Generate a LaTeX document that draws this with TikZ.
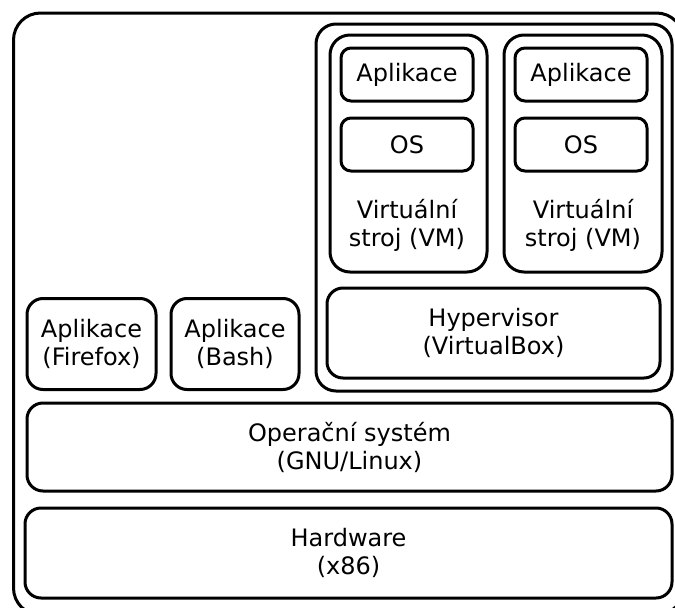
\documentclass[tikz,border=0pt]{standalone}
\usepackage{fontspec}
\setmainfont{DejaVu Sans}
\begin{document}
\begin{tikzpicture}[x=1pt,y=-1pt,
    layer/.style={draw, black, line width=3pt, align=center, inner sep=0, outer sep=0,
      font=\fontsize{24}{28}\selectfont},
    appbox/.style={layer, rounded corners=10pt},
    bigbox/.style={layer, rounded corners=16pt}]

      \useasboundingbox (0, 0) rectangle (675, 608);
      % outer frame, cut by the page
      \node[layer, rounded corners=27pt, minimum width=670pt, minimum height=602pt] (host) at (348.5, 314) {};

      % virtualisation part
      \node[bigbox, rounded corners=20pt, minimum width=356pt, minimum height=367pt] (vmhost) at (494, 207.5) {};
      \node[bigbox, rounded corners=20pt, minimum width=157pt, minimum height=237pt] (vma) at (408.5, 153.5) {};
      \node[bigbox, rounded corners=20pt, minimum width=158pt, minimum height=237pt] (vmb) at (583, 153.5) {};
      \node[appbox, minimum width=132pt, minimum height=53pt] (appa) at (407, 74.5) {Aplikace};
      \node[appbox, minimum width=132pt, minimum height=53pt] (osa) at (407, 144.5) {OS};
      \node[appbox, minimum width=132pt, minimum height=53pt] (appb) at (581, 74.5) {Aplikace};
      \node[appbox, minimum width=132pt, minimum height=53pt] (osb) at (581, 144.5) {OS};
      \node[layer, draw=none] (vmatext) at (407, 225) {Virtuální\\stroj (VM)};
      \node[layer, draw=none] (vmbtext) at (583, 225) {Virtuální\\stroj (VM)};
      \node[bigbox, minimum width=333pt, minimum height=90pt] (hyper) at (493.5, 333) {Hypervisor\\(VirtualBox)};

      % applications on the host
      \node[bigbox, minimum width=129pt, minimum height=91pt] (firefox) at (91.5, 344) {Aplikace\\(Firefox)};
      \node[bigbox, minimum width=128pt, minimum height=91pt] (bash) at (235, 344) {Aplikace\\(Bash)};

      % system layers
      \node[bigbox, minimum width=645pt, minimum height=88pt] (opsys) at (349.5, 447) {Operační systém\\(GNU/Linux)};
      \node[bigbox, minimum width=647pt, minimum height=90pt] (hw) at (348.5, 553) {Hardware\\(x86)};
    \end{tikzpicture}
\end{document}
